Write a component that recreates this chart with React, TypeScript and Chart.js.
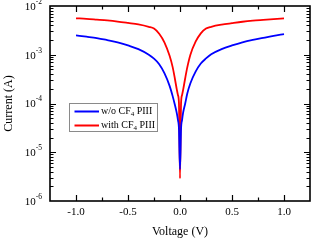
import React, { useEffect, useRef } from "react";
import { Chart, registerables } from "chart.js";

Chart.register(...registerables);

// ---- data ----
const VOLTAGE = [
  -1.0, -0.9, -0.8, -0.7, -0.6, -0.5, -0.4, -0.3, -0.25, -0.2, -0.15, -0.1, -0.07, -0.05, -0.03, -0.02, -0.01,
  0.0,
  0.01, 0.02, 0.03, 0.05, 0.07, 0.1, 0.15, 0.2, 0.25, 0.3, 0.4, 0.5, 0.6, 0.7, 0.8, 0.9, 1.0,
];

const CURRENT_WO = [
  2.5e-3, 2.35e-3, 2.2e-3, 2.0e-3, 1.8e-3, 1.55e-3, 1.3e-3, 1.0e-3, 8.3e-4, 6.4e-4, 4.2e-4, 2.3e-4, 1.4e-4, 9.5e-5, 6.2e-5, 4.6e-5, 3.0e-5,
  4.5e-6,
  3.0e-5, 4.6e-5, 6.5e-5, 1.0e-4, 1.6e-4, 2.6e-4, 4.5e-4, 6.6e-4, 8.4e-4, 1.02e-3, 1.3e-3, 1.55e-3, 1.8e-3, 2.02e-3, 2.22e-3, 2.45e-3, 2.65e-3,
];

const CURRENT_WITH = [
  5.6e-3, 5.45e-3, 5.25e-3, 5.05e-3, 4.8e-3, 4.5e-3, 4.2e-3, 3.75e-3, 3.45e-3, 2.7e-3, 1.8e-3, 9.5e-4, 5.5e-4, 3.3e-4, 1.9e-4, 1.5e-4, 1.0e-4,
  2.9e-6,
  1.0e-4, 1.5e-4, 1.9e-4, 3.3e-4, 5.5e-4, 1.0e-3, 1.85e-3, 2.75e-3, 3.45e-3, 3.75e-3, 4.15e-3, 4.45e-3, 4.75e-3, 5.0e-3, 5.2e-3, 5.4e-3, 5.6e-3,
];

const SERIES_LABELS = ["w/o CF_4 PIII", "with CF_4 PIII"];
const SERIES_COLORS = ["#0000ff", "#ff0000"];
const X_TICK_LABELS = ["-1.0", "-0.5", "0.0", "0.5", "1.0"];
const Y_DECADES = [-6, -5, -4, -3, -2];
const X_TITLE = "Voltage (V)";
const Y_TITLE = "Current (A)";

const FONT = "'Liberation Serif', 'Times New Roman', serif";

const isMajorX = (v: number) =>
  X_TICK_LABELS.some((l) => Math.abs(parseFloat(l) - v) < 1e-9);

const decorPlugin = {
  id: "decor",
  afterDatasetsDraw(chart: any) {
    const { ctx, chartArea: a, scales } = chart;
    const xs = scales.x;
    const ys = scales.y;
    ctx.save();
    // ticks (inward, mirrored)
    ctx.strokeStyle = "#000";
    ctx.lineWidth = 1.2;
    ctx.beginPath();
    xs.ticks.forEach((t: any) => {
      const v = t.value;
      if (v <= xs.min + 1e-9 || v >= xs.max - 1e-9) return;
      const px = Math.round(xs.getPixelForValue(v)) + 0.5;
      const len = isMajorX(v) ? 6 : 3.5;
      ctx.moveTo(px, a.bottom);
      ctx.lineTo(px, a.bottom - len);
      ctx.moveTo(px, a.top);
      ctx.lineTo(px, a.top + len);
    });
    ys.ticks.forEach((t: any) => {
      const v = t.value;
      if (v <= ys.min * 1.0001 || v >= ys.max * 0.9999) return;
      const py = Math.round(ys.getPixelForValue(v)) + 0.5;
      const len = t.major ? 6 : 3.5;
      ctx.moveTo(a.left, py);
      ctx.lineTo(a.left + len, py);
      ctx.moveTo(a.right, py);
      ctx.lineTo(a.right - len, py);
    });
    ctx.stroke();
    // frame
    ctx.lineWidth = 1.6;
    ctx.strokeRect(a.left, a.top, a.right - a.left, a.bottom - a.top);

    // y tick labels with superscripts
    ctx.fillStyle = "#000";
    Y_DECADES.forEach((n) => {
      const py = ys.getPixelForValue(Math.pow(10, n));
      const sup = String(n);
      ctx.font = `7.5px ${FONT}`;
      const ws = ctx.measureText(sup).width;
      const xEnd = a.left - 8;
      ctx.textBaseline = "middle";
      ctx.textAlign = "left";
      ctx.fillText(sup, xEnd - ws, py - 4);
      ctx.font = `11px ${FONT}`;
      ctx.textAlign = "right";
      ctx.fillText("10", xEnd - ws, py + 1);
    });

    // legend
    const bx = 69.5, by = 103.5, bw = 88, bh = 28;
    ctx.fillStyle = "#fff";
    ctx.fillRect(bx, by, bw, bh);
    ctx.strokeStyle = "#8a8a8a";
    ctx.lineWidth = 1;
    ctx.strokeRect(bx, by, bw, bh);
    const rows = [111.5, 125.5];
    chart.data.datasets.forEach((ds: any, i: number) => {
      const ry = rows[i];
      ctx.strokeStyle = ds.borderColor;
      ctx.lineWidth = 2;
      ctx.beginPath();
      ctx.moveTo(74.5, ry);
      ctx.lineTo(99, ry);
      ctx.stroke();
      let tx = 101;
      ctx.fillStyle = "#000";
      ctx.textAlign = "left";
      ctx.textBaseline = "middle";
      const parts = String(ds.label).split(/_(\d)/);
      parts.forEach((p: string, j: number) => {
        if (j % 2 === 1) {
          ctx.font = `7px ${FONT}`;
          ctx.fillText(p, tx, ry + 3);
        } else {
          ctx.font = `10px ${FONT}`;
          ctx.fillText(p, tx, ry);
        }
        tx += ctx.measureText(p).width;
      });
    });
    ctx.restore();
  },
};

export default function App() {
  const ref = useRef<HTMLCanvasElement | null>(null);

  useEffect(() => {
    document.body.style.margin = "0";
    if (!ref.current) return;
    const makeData = (arr: number[]) => VOLTAGE.map((v, i) => ({ x: v, y: arr[i] }));
    const chart = new Chart(ref.current, {
      type: "line",
      data: {
        datasets: [
          {
            label: SERIES_LABELS[0],
            data: makeData(CURRENT_WO),
            borderColor: SERIES_COLORS[0],
            backgroundColor: SERIES_COLORS[0],
            borderWidth: 1.8,
            pointRadius: 0,
            cubicInterpolationMode: "monotone",
          },
          {
            label: SERIES_LABELS[1],
            data: makeData(CURRENT_WITH),
            borderColor: SERIES_COLORS[1],
            backgroundColor: SERIES_COLORS[1],
            borderWidth: 1.8,
            pointRadius: 0,
            cubicInterpolationMode: "monotone",
          },
        ],
      },
      options: {
        animation: false,
        responsive: false,
        devicePixelRatio: 1,
        layout: { padding: { left: 0, right: 3, top: 6, bottom: 0 } },
        plugins: {
          legend: { display: false },
          tooltip: { enabled: false },
        },
        scales: {
          x: {
            type: "linear",
            min: -1.25,
            max: 1.25,
            grid: { display: false, drawTicks: false },
            border: { display: false },
            ticks: {
              stepSize: 0.25,
              autoSkip: false,
              maxRotation: 0,
              padding: 5,
              color: "#000",
              font: { family: FONT, size: 11 },
              callback: (value: any) => {
                const v = Number(value);
                const l = X_TICK_LABELS.find((s) => Math.abs(parseFloat(s) - v) < 1e-9);
                return l ?? "";
              },
            },
            title: {
              display: true,
              text: X_TITLE,
              color: "#000",
              font: { family: FONT, size: 12 },
              padding: { top: 0, bottom: 1 },
            },
            afterFit: (scale: any) => {
              scale.height = 39;
            },
          },
          y: {
            type: "logarithmic",
            min: 1e-6,
            max: 1e-2,
            grid: { display: false, drawTicks: false },
            border: { display: false },
            ticks: { display: false },
            afterBuildTicks: (scale: any) => {
              const ticks: any[] = [];
              for (let n = -6; n <= -3; n++) {
                for (let k = 1; k <= 9; k++) {
                  ticks.push({ value: k * Math.pow(10, n), major: k === 1 });
                }
              }
              ticks.push({ value: 1e-2, major: true });
              scale.ticks = ticks;
            },
            title: {
              display: true,
              text: Y_TITLE,
              color: "#000",
              font: { family: FONT, size: 12 },
              padding: { top: 2, bottom: 0 },
            },
            afterFit: (scale: any) => {
              scale.width = 50;
            },
          },
        },
      },
      plugins: [decorPlugin],
    });
    return () => chart.destroy();
  }, []);

  return (
    <div style={{ width: 315, height: 240, background: "#fff" }}>
      <canvas ref={ref} width={315} height={240} style={{ display: "block" }} />
    </div>
  );
}
